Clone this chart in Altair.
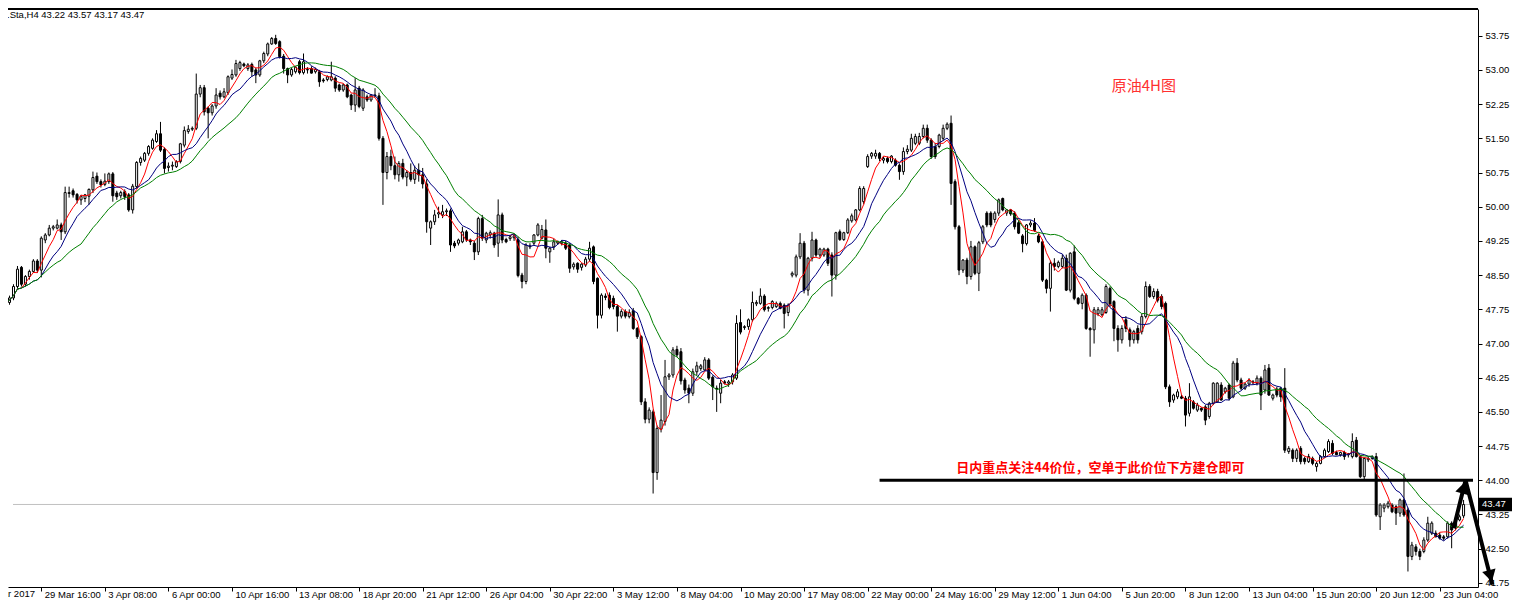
import altair as alt
import pandas as pd

# ---------------- candle data ----------------
opens = [
    47.85, 47.90, 48.00, 48.25, 48.67, 48.30, 48.47, 48.58, 48.81, 48.61,
    49.27, 49.38, 49.53, 49.53, 49.60, 49.45, 50.29, 50.35, 50.27, 50.15,
    50.18, 50.23, 50.37, 50.67, 50.55, 50.49, 50.55, 50.72, 50.30, 50.24,
    50.33, 50.26, 49.93, 50.44, 50.97, 51.02, 51.17, 51.28, 51.43, 51.60,
    51.26, 50.86, 50.89, 50.88, 50.99, 51.35, 51.65, 51.70, 51.72, 52.47,
    52.61, 52.16, 52.06, 52.21, 52.49, 52.41, 52.50, 52.82, 52.89, 53.03,
    53.13, 53.03, 53.12, 53.00, 52.89, 53.20, 53.35, 53.57, 53.69, 53.62,
    53.30, 53.03, 52.89, 52.96, 53.18, 52.94, 53.00, 53.03, 52.96, 52.96,
    52.78, 52.79, 52.78, 52.82, 52.67, 52.56, 52.67, 52.45, 52.23, 52.60,
    52.16, 52.41, 52.34, 52.45, 52.43, 51.50, 50.75, 51.10, 50.90, 50.70,
    50.95, 50.65, 50.75, 50.60, 50.80, 50.70, 50.50, 49.53, 49.67, 49.84,
    49.82, 49.89, 49.91, 49.20, 49.20, 49.23, 49.45, 49.27, 49.20, 49.01,
    49.74, 49.27, 49.38, 49.42, 49.20, 49.82, 49.28, 49.30, 49.32, 49.28,
    48.50, 48.36, 49.14, 49.20, 49.38, 49.31, 49.49, 49.01, 49.12, 49.20,
    49.20, 49.20, 49.16, 48.68, 48.76, 48.67, 48.72, 48.85, 49.12, 48.43,
    47.62, 48.04, 48.06, 47.99, 47.81, 47.60, 47.70, 47.59, 47.72, 47.33,
    47.15, 45.72, 45.34, 45.50, 44.17, 45.12, 45.29, 46.27, 46.31, 46.87,
    46.82, 46.20, 46.02, 45.91, 46.38, 46.45, 46.42, 46.64, 46.26, 46.02,
    45.91, 46.16, 46.13, 46.16, 46.24, 47.46, 47.35, 47.37, 47.52, 47.87,
    47.88, 48.04, 47.77, 47.79, 47.81, 47.88, 47.84, 47.68, 48.50, 48.50,
    48.90, 49.20, 48.17, 48.87, 49.27, 48.94, 48.94, 49.07, 48.94, 48.50,
    49.45, 49.28, 49.43, 49.69, 49.71, 49.93, 50.11, 50.88, 51.11, 51.11,
    51.17, 51.02, 51.06, 50.99, 51.02, 50.91, 50.77, 51.21, 51.24, 51.39,
    51.39, 51.54, 51.72, 51.46, 51.32, 51.32, 51.50, 51.72, 51.83, 50.55,
    49.56, 48.61, 48.83, 48.47, 49.12, 48.54, 49.23, 49.86, 49.86, 49.72,
    49.86, 50.18, 49.86, 49.93, 49.86, 49.65, 49.36, 49.19, 49.60, 49.64,
    49.36, 49.23, 48.39, 48.21, 48.76, 48.69, 48.69, 48.87, 48.17, 49.01,
    47.99, 47.88, 48.06, 47.33, 47.30, 47.65, 47.63, 47.68, 48.21, 47.92,
    47.33, 47.08, 47.52, 47.30, 47.08, 47.33, 47.26, 47.59, 48.25, 48.03,
    48.14, 48.03, 47.88, 46.05, 45.76, 45.83, 45.83, 45.80, 45.47, 45.72,
    45.54, 45.58, 45.61, 45.40, 45.69, 45.72, 46.09, 45.94, 46.09, 45.83,
    46.57, 46.20, 46.02, 46.11, 46.14, 46.13, 46.24, 45.98, 46.46, 45.80,
    46.00, 46.02, 46.02, 44.63, 44.66, 44.48, 44.70, 44.48, 44.41, 44.48,
    44.30, 44.37, 44.52, 44.63, 44.81, 44.61, 44.56, 44.61, 44.56, 44.52,
    44.88, 44.52, 44.08, 44.45, 44.48, 44.52, 43.20, 43.39, 43.42, 43.46,
    43.42, 43.28, 43.57, 43.35, 42.33, 42.54, 42.44, 42.44, 42.69, 42.84,
    42.84, 42.80, 42.76, 42.76, 43.06, 42.97, 43.13, 43.22,
]
highs = [
    47.95, 48.05, 48.30, 48.70, 48.70, 48.50, 48.62, 48.85, 48.85, 49.35,
    49.42, 49.60, 49.60, 49.72, 49.65, 50.44, 50.44, 50.40, 50.30, 50.26,
    50.28, 50.40, 50.77, 50.75, 50.60, 50.73, 50.75, 50.76, 50.35, 50.35,
    50.38, 50.30, 50.50, 51.00, 51.10, 51.20, 51.35, 51.50, 51.68, 51.86,
    51.30, 50.97, 50.99, 51.02, 51.40, 51.76, 51.79, 51.76, 52.92, 52.67,
    52.67, 52.20, 52.25, 52.60, 52.55, 52.60, 52.88, 53.01, 53.22, 53.20,
    53.16, 53.15, 53.16, 53.05, 53.22, 53.40, 53.60, 53.72, 53.77, 53.65,
    53.35, 53.05, 53.05, 53.08, 53.22, 53.36, 53.06, 53.08, 53.05, 53.00,
    52.82, 52.88, 53.18, 52.86, 52.70, 52.70, 52.70, 52.48, 52.82, 52.65,
    52.60, 52.46, 52.47, 52.60, 52.50, 51.55, 51.20, 51.25, 51.10, 51.00,
    51.05, 50.80, 50.95, 50.90, 50.95, 50.85, 50.60, 49.70, 49.93, 50.00,
    50.04, 49.96, 49.96, 49.25, 49.30, 49.56, 49.49, 49.30, 49.25, 49.78,
    49.82, 49.45, 49.48, 49.45, 50.16, 49.87, 49.32, 49.38, 49.40, 49.34,
    48.55, 49.20, 49.20, 49.40, 49.64, 49.60, 49.72, 49.12, 49.30, 49.26,
    49.27, 49.25, 49.20, 48.78, 48.78, 48.76, 48.90, 49.23, 49.15, 48.45,
    48.10, 48.10, 48.12, 48.05, 47.85, 47.75, 47.75, 47.75, 47.78, 47.36,
    47.18, 45.80, 45.60, 45.55, 45.20, 45.87, 46.64, 46.35, 46.92, 46.95,
    46.90, 46.25, 46.10, 46.45, 46.60, 46.55, 46.70, 46.68, 46.30, 46.08,
    46.20, 46.20, 46.20, 46.35, 47.62, 47.75, 47.40, 47.55, 48.14, 47.95,
    48.21, 48.08, 47.82, 47.95, 47.92, 47.92, 47.88, 47.88, 48.58, 48.95,
    49.42, 49.25, 48.90, 49.45, 49.30, 49.10, 49.10, 49.10, 49.00, 49.45,
    49.50, 49.45, 49.75, 49.85, 49.95, 50.45, 50.45, 51.15, 51.20, 51.25,
    51.20, 51.10, 51.10, 51.13, 51.06, 50.95, 51.30, 51.35, 51.60, 51.60,
    51.62, 51.80, 51.80, 51.50, 51.40, 51.60, 51.80, 51.85, 52.00, 50.60,
    49.60, 48.85, 48.88, 49.25, 49.15, 49.25, 49.60, 49.90, 49.90, 49.90,
    50.18, 50.20, 49.95, 49.95, 49.90, 49.70, 49.40, 49.62, 49.70, 49.75,
    49.40, 49.28, 48.42, 48.82, 48.87, 48.82, 48.95, 48.95, 49.00, 49.15,
    48.02, 48.10, 48.10, 47.36, 47.80, 47.80, 47.80, 48.30, 48.25, 47.95,
    47.40, 47.40, 47.60, 47.35, 47.30, 47.40, 47.65, 48.36, 48.30, 48.21,
    48.20, 48.08, 47.92, 46.10, 45.90, 46.00, 45.88, 45.85, 46.13, 45.76,
    45.70, 45.60, 45.65, 45.72, 46.15, 46.15, 46.15, 46.05, 46.12, 46.62,
    46.68, 46.25, 46.14, 46.24, 46.20, 46.30, 46.28, 46.53, 46.55, 45.90,
    46.05, 46.05, 46.46, 44.75, 44.70, 44.70, 44.75, 44.52, 44.58, 44.52,
    44.41, 44.55, 44.70, 44.90, 44.88, 44.65, 44.63, 44.65, 44.60, 45.03,
    44.95, 44.55, 44.50, 44.52, 44.55, 44.60, 43.50, 43.50, 43.55, 43.50,
    43.46, 43.60, 44.15, 43.40, 42.65, 42.60, 42.50, 42.75, 43.20, 43.10,
    42.90, 42.85, 42.80, 43.10, 43.10, 43.20, 43.25, 43.57,
]
lows = [
    47.75, 47.85, 47.95, 48.20, 48.25, 48.25, 48.40, 48.55, 48.55, 48.45,
    49.20, 49.35, 49.48, 49.50, 49.27, 49.40, 50.20, 50.20, 50.07, 50.04,
    50.10, 50.04, 50.30, 50.50, 50.42, 50.45, 50.50, 50.11, 50.15, 50.18,
    50.15, 49.89, 49.85, 50.40, 50.90, 50.98, 51.12, 51.25, 51.40, 51.20,
    50.73, 50.77, 50.80, 50.85, 50.95, 51.30, 51.60, 51.66, 51.68, 52.40,
    52.00, 51.50, 52.00, 52.15, 52.35, 52.38, 52.45, 52.78, 52.85, 52.98,
    53.06, 52.98, 52.85, 52.71, 52.85, 53.15, 53.30, 53.55, 53.55, 53.25,
    52.92, 52.71, 52.85, 52.92, 52.90, 52.90, 52.92, 52.92, 52.92, 52.63,
    52.72, 52.75, 52.75, 52.52, 52.52, 52.52, 52.38, 52.12, 52.08, 52.16,
    52.10, 52.30, 52.30, 52.40, 51.45, 50.04, 50.60, 50.80, 50.60, 50.55,
    50.60, 50.45, 50.55, 50.50, 50.55, 50.40, 49.43, 49.16, 49.60, 49.75,
    49.75, 49.80, 49.01, 49.09, 49.15, 49.20, 49.23, 49.16, 48.83, 48.94,
    49.25, 49.20, 49.30, 49.10, 48.90, 49.20, 49.20, 49.25, 49.25, 48.45,
    48.21, 48.30, 49.07, 49.15, 49.35, 49.28, 48.87, 48.77, 49.05, 49.16,
    49.15, 49.05, 48.55, 48.62, 48.55, 48.60, 48.68, 48.80, 48.30, 47.33,
    47.55, 47.95, 47.75, 47.75, 47.26, 47.55, 47.55, 47.55, 47.30, 47.10,
    45.65, 45.25, 45.25, 43.71, 44.01, 45.05, 45.20, 46.20, 46.25, 46.70,
    46.10, 45.90, 45.69, 45.85, 46.30, 46.40, 46.40, 46.20, 45.76, 45.50,
    45.69, 46.10, 46.05, 46.10, 46.20, 47.20, 47.30, 47.30, 47.48, 47.82,
    47.85, 47.70, 47.70, 47.75, 47.78, 47.75, 47.33, 47.60, 48.45, 48.45,
    48.85, 48.10, 48.05, 48.80, 48.90, 48.88, 48.90, 48.70, 48.03, 48.40,
    49.25, 49.25, 49.40, 49.65, 49.68, 49.90, 50.05, 50.85, 51.05, 51.05,
    51.00, 50.95, 50.95, 50.95, 50.88, 50.59, 50.70, 51.15, 51.20, 51.35,
    51.35, 51.50, 51.40, 51.05, 51.05, 51.28, 51.45, 51.68, 50.04, 49.50,
    48.50, 48.55, 48.30, 48.40, 48.50, 48.15, 49.18, 49.55, 49.55, 49.65,
    49.80, 49.90, 49.80, 49.80, 49.50, 49.40, 49.00, 49.15, 49.55, 49.45,
    49.20, 48.35, 48.10, 47.70, 48.60, 48.65, 48.65, 48.15, 48.12, 47.95,
    47.85, 47.75, 47.30, 46.71, 47.00, 47.60, 47.60, 47.65, 47.80, 47.05,
    46.82, 47.00, 47.25, 46.93, 47.00, 47.00, 47.20, 47.55, 48.00, 47.98,
    47.90, 47.75, 46.00, 45.61, 45.70, 45.78, 45.78, 45.18, 45.40, 45.55,
    45.50, 45.50, 45.21, 45.35, 45.65, 45.70, 45.75, 45.90, 45.75, 45.80,
    46.15, 45.98, 45.98, 46.05, 46.10, 46.08, 45.54, 45.90, 45.85, 45.75,
    45.82, 45.72, 44.60, 44.58, 44.40, 44.40, 44.35, 44.35, 44.38, 44.33,
    44.19, 44.35, 44.50, 44.60, 44.55, 44.55, 44.52, 44.45, 44.50, 44.48,
    44.50, 44.05, 44.00, 44.40, 44.45, 43.20, 42.91, 43.30, 43.38, 43.28,
    43.02, 43.20, 43.20, 42.00, 42.25, 42.35, 42.25, 42.40, 42.65, 42.80,
    42.75, 42.70, 42.68, 42.72, 42.51, 42.90, 43.10, 43.17,
]
closes = [
    47.90, 48.00, 48.25, 48.63, 48.30, 48.47, 48.58, 48.81, 48.61, 49.31,
    49.38, 49.53, 49.56, 49.60, 49.45, 50.31, 50.31, 50.26, 50.15, 50.23,
    50.26, 50.38, 50.64, 50.55, 50.48, 50.56, 50.72, 50.24, 50.22, 50.31,
    50.22, 49.93, 50.45, 50.97, 51.06, 51.17, 51.32, 51.46, 51.60, 51.24,
    50.84, 50.89, 50.91, 50.99, 51.38, 51.67, 51.70, 51.72, 52.47, 52.61,
    52.08, 52.06, 52.21, 52.45, 52.41, 52.52, 52.85, 52.90, 53.14, 53.16,
    53.09, 53.11, 52.96, 52.89, 53.20, 53.36, 53.57, 53.69, 53.58, 53.29,
    53.03, 52.89, 53.01, 53.06, 52.94, 53.18, 53.01, 52.93, 53.01, 52.74,
    52.76, 52.85, 52.85, 52.60, 52.56, 52.67, 52.41, 52.23, 52.56, 52.20,
    52.56, 52.34, 52.45, 52.43, 51.50, 50.75, 51.10, 50.90, 50.70, 50.95,
    50.65, 50.75, 50.60, 50.80, 50.70, 50.50, 49.67, 49.67, 49.82, 49.87,
    49.89, 49.91, 49.16, 49.14, 49.27, 49.45, 49.27, 49.23, 49.01, 49.74,
    49.31, 49.42, 49.43, 49.16, 49.82, 49.27, 49.23, 49.34, 49.36, 48.49,
    48.36, 49.16, 49.12, 49.38, 49.60, 49.50, 49.09, 49.09, 49.23, 49.23,
    49.23, 49.09, 48.65, 48.74, 48.63, 48.74, 48.85, 49.09, 48.36, 47.62,
    48.06, 48.01, 47.79, 47.81, 47.60, 47.70, 47.60, 47.68, 47.33, 47.15,
    45.72, 45.34, 45.54, 44.17, 45.14, 45.32, 46.27, 46.31, 46.86, 46.75,
    46.18, 45.98, 45.91, 46.38, 46.51, 46.51, 46.64, 46.24, 46.05, 46.00,
    46.13, 46.13, 46.16, 46.31, 47.44, 47.25, 47.37, 47.52, 47.90, 47.90,
    48.04, 47.74, 47.79, 47.92, 47.88, 47.77, 47.66, 47.84, 48.54, 48.90,
    49.20, 48.17, 48.87, 49.27, 48.94, 49.07, 49.07, 48.76, 48.50, 49.43,
    49.28, 49.43, 49.71, 49.80, 49.93, 50.40, 50.40, 51.10, 51.17, 51.17,
    51.06, 51.06, 50.99, 51.11, 50.91, 50.77, 51.21, 51.26, 51.50, 51.54,
    51.54, 51.72, 51.46, 51.10, 51.10, 51.57, 51.72, 51.81, 50.51, 49.56,
    48.61, 48.83, 48.47, 49.12, 48.54, 49.21, 49.56, 49.60, 49.60, 49.86,
    50.15, 49.93, 49.93, 49.84, 49.56, 49.42, 49.19, 49.60, 49.64, 49.48,
    49.23, 48.39, 48.21, 48.76, 48.69, 48.78, 48.87, 48.17, 48.98, 47.99,
    47.88, 48.06, 47.33, 47.30, 47.74, 47.74, 47.74, 48.25, 47.85, 47.33,
    47.08, 47.33, 47.33, 47.08, 47.26, 47.08, 47.59, 48.25, 48.03, 48.14,
    47.95, 47.81, 46.05, 45.72, 45.87, 45.94, 45.80, 45.43, 45.83, 45.58,
    45.65, 45.54, 45.32, 45.69, 46.13, 46.13, 45.76, 46.02, 45.80, 46.57,
    46.20, 46.02, 46.11, 46.20, 46.16, 46.24, 45.87, 46.42, 45.87, 45.87,
    45.87, 45.83, 44.66, 44.70, 44.48, 44.66, 44.41, 44.41, 44.52, 44.37,
    44.37, 44.52, 44.66, 44.85, 44.59, 44.56, 44.61, 44.52, 44.58, 44.85,
    44.52, 44.08, 44.48, 44.48, 44.52, 43.24, 43.46, 43.46, 43.50, 43.31,
    43.28, 43.57, 43.24, 42.33, 42.58, 42.44, 42.33, 42.69, 43.06, 43.06,
    42.76, 42.73, 42.73, 43.06, 42.91, 43.17, 43.20, 43.47,
]

# ---------------- axis texts ----------------
tick_bars = [9, 25, 41, 57, 73, 89, 105, 121, 137, 153, 169, 185,
             201, 217, 233, 249, 265, 281, 297, 313, 329, 345, 361]
tick_labels = ["29 Mar 16:00", "3 Apr 08:00", "6 Apr 00:00", "10 Apr 16:00",
               "13 Apr 08:00", "18 Apr 20:00", "21 Apr 12:00", "26 Apr 04:00",
               "30 Apr 22:00", "3 May 12:00", "8 May 04:00", "10 May 20:00",
               "17 May 08:00", "22 May 00:00", "24 May 16:00", "29 May 12:00",
               "1 Jun 04:00", "5 Jun 20:00", "8 Jun 12:00", "13 Jun 04:00",
               "15 Jun 20:00", "20 Jun 12:00", "23 Jun 04:00"]
first_label = ["28 Mar 2017"]
price_ticks = [53.75, 53.00, 52.25, 51.50, 50.75, 50.00, 49.25, 48.50, 47.75,
               47.00, 46.25, 45.50, 44.75, 44.00, 43.25, 42.50, 41.75]
header_text = [".Sta,H4 43.22 43.57 43.17 43.47"]

# moving averages
ma_periods = [5, 10, 20]
ma_colors = ["#ff0000", "#000080", "#008000"]

# annotations
last_price = [43.47]
last_box_top = [43.62]
last_box_bottom = [43.32]
level_price = [44.0]
level_start_bar = [220]
note_text = ["日内重点关注44价位，空单于此价位下方建仓即可"]
note_bar = [275.6]
note_price = [44.27]
title_text = ["原油4H图"]
title_bar = [286.5]
title_price = [52.65]
arrow_bars = [364.5, 367.5, 374.25]
arrow_prices = [42.95, 44.0, 41.71]
head_bars = [367.0, 373.75]
head_prices = [43.84, 41.90]
head_angles = [15, 165]

# ---------------- layout ----------------
W, H = 1470, 578
x_domain = [1.875, 369.375]
y_domain = [41.66, 54.336]
FONT = "Liberation Sans"
CJK = "Noto Sans CJK SC"

df = pd.DataFrame({"i": list(range(len(closes))), "o": opens, "h": highs,
                   "l": lows, "c": closes})

xs = alt.Scale(domain=x_domain, nice=False, zero=False)
ys = alt.Scale(domain=y_domain, nice=False, zero=False)

label_expr = ("[" + ",".join("'" + s + "'" for s in tick_labels) + "][indexof(["
              + ",".join(str(t) for t in tick_bars) + "], datum.value)]")

x_axis = alt.Axis(values=tick_bars, labelExpr=label_expr, title="", grid=False,
                  tickSize=4, labelAlign="left", labelBaseline="top",
                  labelPadding=-2, labelOffset=3, labelOverlap=False,
                  labelFlush=False, domainColor="black", tickColor="black",
                  labelColor="black", labelFont=FONT, labelFontSize=9.5)
y_axis = alt.Axis(orient="right", values=price_ticks, format=".2f", title="",
                  grid=False, tickSize=4, labelPadding=3, labelOverlap=False,
                  domainColor="black", tickColor="black", labelColor="black",
                  labelFont=FONT, labelFontSize=9.5, labelBaseline="middle",
                  labelAlign="left")


def X(field):
    return alt.X(field, scale=xs, axis=x_axis)


def Y(field):
    return alt.Y(field, scale=ys, axis=y_axis)


# first layer carries both axes
wicks = alt.Chart(df).mark_rule(color="black", strokeWidth=1, clip=True).encode(
    x=X("i:Q"), y=Y("l:Q"), y2="h:Q",
)

bid = alt.Chart(pd.DataFrame({"i": [x_domain[0]], "i2": [x_domain[1]],
                              "p": last_price})).mark_rule(
    color="#c0c0c0", strokeWidth=1).encode(x=X("i:Q"), x2="i2:Q", y=Y("p:Q"))

bodies = alt.Chart(df).mark_bar(width=2, stroke="black", strokeWidth=1,
                                clip=True).encode(
    x=X("i:Q"), y=Y("o:Q"), y2="c:Q",
    fill=alt.condition("datum.c >= datum.o", alt.value("white"), alt.value("black")),
)

ma_layers = []
for n, col in zip(ma_periods, ma_colors):
    ma_layers.append(
        alt.Chart(df).transform_window(
            ma="mean(c)", frame=[-(n - 1), 0], sort=[alt.SortField("i")]
        ).mark_line(color=col, strokeWidth=1, clip=True).encode(x=X("i:Q"), y=Y("ma:Q"))
    )

level = alt.Chart(pd.DataFrame({"i": level_start_bar, "i2": [x_domain[1]],
                                "p": level_price})).mark_rule(
    color="black", strokeWidth=3, clip=True).encode(x=X("i:Q"), x2="i2:Q", y=Y("p:Q"))

arrow = alt.Chart(pd.DataFrame({"i": arrow_bars, "p": arrow_prices,
                                "s": list(range(len(arrow_bars)))})).mark_line(
    color="black", strokeWidth=4, clip=False).encode(x=X("i:Q"), y=Y("p:Q"), order="s:Q")

heads = alt.Chart(pd.DataFrame({"i": head_bars, "p": head_prices, "a": head_angles})).mark_point(
    shape="triangle-up", filled=True, color="black", opacity=1, size=190, clip=False
).encode(x=X("i:Q"), y=Y("p:Q"), angle=alt.Angle("a:Q", scale=None))

box = alt.Chart(pd.DataFrame({"p1": last_box_top, "p2": last_box_bottom})).mark_rect(
    color="black", clip=False).encode(x=alt.value(W + 1), x2=alt.value(W + 34),
                                      y=Y("p1:Q"), y2="p2:Q")

box_text = alt.Chart(pd.DataFrame({"p": last_price, "t": ["43.47"]})).mark_text(
    color="white", align="left", baseline="middle", font=FONT, fontSize=9.5,
    clip=False).encode(x=alt.value(W + 4), y=Y("p:Q"), text="t:N")

first_lab = alt.Chart(pd.DataFrame({"t": first_label})).mark_text(
    color="black", align="right", baseline="top", font=FONT, fontSize=9.5
).encode(x=alt.value(27), y=alt.value(H + 2), text="t:N")

header = alt.Chart(pd.DataFrame({"t": header_text})).mark_text(
    color="black", align="left", baseline="middle", font=FONT, fontSize=9.5
).encode(x=alt.value(-1), y=alt.value(6), text="t:N")

note = alt.Chart(pd.DataFrame({"i": note_bar, "p": note_price, "t": note_text})).mark_text(
    color="#ff0000", align="center", baseline="middle", font=CJK, fontSize=13,
    fontWeight="bold").encode(x=X("i:Q"), y=Y("p:Q"), text="t:N")

title = alt.Chart(pd.DataFrame({"i": title_bar, "p": title_price, "t": title_text})).mark_text(
    color="#ff3030", align="center", baseline="middle", font=CJK, fontSize=15
).encode(x=X("i:Q"), y=Y("p:Q"), text="t:N")

top_border = alt.Chart(pd.DataFrame({"k": [0]})).mark_rule(
    color="black", strokeWidth=2).encode(x=alt.value(0), x2=alt.value(W), y=alt.value(0))

chart = alt.layer(
    wicks, bid, bodies, *ma_layers, level, arrow, heads, box, box_text,
    first_lab, header, note, title, top_border
).properties(
    width=W, height=H,
    autosize=alt.AutoSizeParams(type="none"),
    padding={"left": 0, "top": 1, "right": 34, "bottom": 13},
    background="white",
).configure_view(strokeOpacity=0)

chart.save("out.html", embed_options={"renderer": "svg", "actions": False})
